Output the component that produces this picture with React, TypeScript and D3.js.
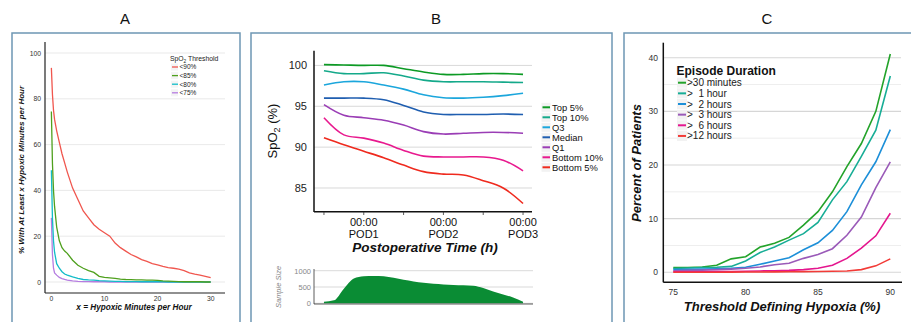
import React, { useEffect, useRef } from "react";
import * as d3 from "d3";

// ---- Panel A: % with at least x hypoxic minutes per hour
const minutesA = [0, 0.2, 0.4, 0.6, 1, 1.5, 2, 2.5, 3, 4, 5, 6, 7, 8, 9, 10, 11, 12, 13, 14, 15, 16, 17, 18, 19, 20, 21, 22, 23, 24, 25, 26, 27, 28, 29, 30];
const below90 = [93.5, 82, 75, 71, 66, 61, 56, 52, 48, 41, 36, 31, 28, 25, 23, 21.5, 20, 17, 15, 13.5, 12, 11, 9.8, 9, 8, 7.5, 6.8, 6.3, 6, 5.6, 5, 4, 3.4, 3, 2.5, 1.9];
const below85 = [74.5, 52, 40, 33, 24, 18, 15, 13.5, 12.5, 9.5, 7.3, 6, 5, 4.2, 2.5, 2, 1.8, 1.6, 1.3, 1.1, 1, 0.9, 0.9, 0.8, 0.8, 0.7, 0.5, 0.4, 0.3, 0.2, 0.1, 0.1, 0.1, 0.1, 0, 0];
const below80 = [48.8, 28, 18, 13, 8, 6, 4.5, 3.5, 3, 2.2, 1.6, 1.1, 0.9, 0.8, 0.6, 0.5, 0.4, 0.3, 0.3, 0.2, 0.2, 0.2, 0.1, 0.1, 0.1, 0.1, 0.1, 0, 0, 0, 0, 0, 0, 0, 0, 0];
const below75 = [28, 12, 6, 4, 3, 2, 1.5, 1.1, 0.8, 0.5, 0.3, 0.2, 0.2, 0.1, 0.1, 0.1, 0, 0, 0, 0, 0, 0, 0, 0, 0, 0, 0, 0, 0, 0, 0, 0, 0, 0, 0, 0];
const thresholdsA = ["<90%", "<85%", "<80%", "<75%"];
const colorsA = ["#f0564e", "#4fa01e", "#12bcc8", "#b57ce0"];

// ---- Panel B: SpO2 percentiles over postoperative time (hours from first point)
const hoursB = [0, 6, 12, 18, 24, 30, 36, 42, 48, 54, 60];
const top5 = [100.1, 100.05, 100.0, 100.0, 99.6, 99.2, 98.9, 98.9, 99.0, 99.0, 98.9];
const top10 = [99.35, 99.0, 99.0, 99.1, 98.7, 98.2, 98.0, 98.0, 98.0, 97.95, 97.9];
const q3 = [97.6, 98.0, 98.0, 97.6, 97.1, 96.4, 96.05, 96.0, 96.1, 96.3, 96.6];
const median = [96.0, 96.0, 96.0, 95.8, 95.1, 94.3, 94.0, 94.0, 94.0, 94.05, 94.0];
const q1 = [95.2, 93.9, 93.6, 93.3, 92.7, 91.9, 91.6, 91.7, 91.8, 91.8, 91.7];
const bottom10 = [93.6, 91.5, 91.1, 90.5, 89.6, 88.9, 88.8, 88.8, 88.8, 88.4, 87.1];
const bottom5 = [91.15, 90.3, 89.5, 88.7, 87.8, 87.0, 86.7, 86.6, 85.9, 85.0, 83.1];
const seriesNamesB = ["Top 5%", "Top 10%", "Q3", "Median", "Q1", "Bottom 10%", "Bottom 5%"];
const colorsB = ["#0c9a24", "#14a98a", "#1ba6dc", "#1f5eb0", "#9a3db5", "#e8198e", "#ef2a1e"];
const podTicks = [12, 36, 60];
const podLabels = ["POD1", "POD2", "POD3"];

const sampleHours = [0, 3, 6, 9, 12, 15, 18, 21, 24, 27, 30, 33, 36, 39, 42, 45, 48, 51, 54, 57, 60];
const sampleSize = [50, 90, 450, 760, 830, 840, 830, 780, 720, 670, 630, 600, 580, 565, 555, 540, 470, 360, 270, 180, 50];

// ---- Panel C: percent of patients by hypoxia threshold
const thresholdC = [75, 76, 77, 78, 79, 80, 81, 82, 83, 84, 85, 86, 87, 88, 89, 90];
const over30min = [0.87, 0.9, 1.0, 1.3, 2.5, 2.9, 4.7, 5.4, 6.5, 8.8, 11.3, 15.0, 19.7, 24.0, 30.0, 40.7];
const over1h = [0.7, 0.8, 0.9, 0.95, 1.1, 2.1, 3.7, 4.7, 6.0, 7.2, 9.3, 13.5, 16.9, 21.6, 26.5, 36.6];
const over2h = [0.5, 0.55, 0.6, 0.65, 0.75, 0.95, 1.5, 2.1, 2.7, 4.2, 5.5, 7.8, 11.3, 16.3, 20.6, 26.6];
const over3h = [0.3, 0.35, 0.4, 0.5, 0.6, 0.75, 1.0, 1.4, 1.7, 2.6, 3.3, 4.4, 6.9, 10.3, 15.8, 20.6];
const over6h = [0.1, 0.1, 0.1, 0.15, 0.15, 0.2, 0.25, 0.3, 0.35, 0.5, 0.75, 1.3, 2.6, 4.5, 6.8, 11.0];
const over12h = [0, 0, 0, 0.02, 0.03, 0.05, 0.06, 0.08, 0.1, 0.12, 0.15, 0.2, 0.25, 0.5, 1.2, 2.5];
const durationsC = [">30 minutes", ">  1 hour", ">  2 hours", ">  3 hours", ">  6 hours", ">12 hours"];
const colorsC = ["#23a32a", "#17ad96", "#1c8fd8", "#9a5ab8", "#e4168e", "#f23b37"];

const FONT = "'Liberation Sans', Arial, Helvetica, sans-serif";
const BORDER = "#6e97b4";

const App: React.FC = () => {
    const ref = useRef<SVGSVGElement | null>(null);

    useEffect(() => {
        const svg = d3.select(ref.current);
        svg.selectAll("*").remove();
        svg.attr("font-family", FONT);

        // panel letters + frames
        [["A", 125, 12, 228], ["B", 436, 251, 361], ["C", 767, 624, 300]].forEach(([t, cx, bx, bw]) => {
            svg.append("text").attr("x", cx as number).attr("y", 24).attr("text-anchor", "middle")
                .attr("font-size", 15).attr("fill", "#111").text(t as string);
            svg.append("rect").attr("x", bx as number).attr("y", 33).attr("width", bw as number).attr("height", 300)
                .attr("fill", "white").attr("stroke", BORDER).attr("stroke-width", 1.5);
        });

        // ================= Panel A =================
        const xA = d3.scaleLinear().domain([-1.2, 32.7]).range([45, 225]);
        const yA = d3.scaleLinear().domain([0, 100]).range([282, 53]);
        const gA = svg.append("g");
        gA.selectAll("line.grid").data(d3.range(0, 101, 20)).join("line")
            .attr("x1", 45).attr("x2", 225).attr("y1", (d) => yA(d)).attr("y2", (d) => yA(d))
            .attr("stroke", "#e3e3e3").attr("stroke-width", 0.8);
        const seriesA = [below90, below85, below80, below75];
        const lineA = d3.line<number>().x((_, i) => xA(minutesA[i])).y((d) => yA(d));
        seriesA.slice().reverse().forEach((s, k) => {
            gA.append("path").attr("d", lineA(s)).attr("fill", "none")
                .attr("stroke", colorsA[3 - k]).attr("stroke-width", 1.3);
        });
        gA.append("line").attr("x1", 45).attr("x2", 45).attr("y1", 42).attr("y2", 293).attr("stroke", "#222").attr("stroke-width", 1.2);
        gA.append("line").attr("x1", 45).attr("x2", 225).attr("y1", 293).attr("y2", 293).attr("stroke", "#222").attr("stroke-width", 1.2);
        gA.selectAll("text.yt").data(d3.range(0, 101, 20)).join("text")
            .attr("x", 41).attr("y", (d) => yA(d) + 2.5).attr("text-anchor", "end")
            .attr("font-size", 6.8).attr("fill", "#333").text((d) => d);
        gA.selectAll("text.xt").data([0, 10, 20, 30]).join("text")
            .attr("x", (d) => xA(d)).attr("y", 301).attr("text-anchor", "middle")
            .attr("font-size", 6.8).attr("fill", "#333").text((d) => d);
        gA.append("text").attr("transform", "translate(24,170) rotate(-90)").attr("text-anchor", "middle")
            .attr("font-size", 8).attr("font-weight", "bold").attr("font-style", "italic").attr("fill", "#111")
            .text("% With At Least x Hypoxic Minutes per Hour");
        gA.append("text").attr("x", 134).attr("y", 310).attr("text-anchor", "middle")
            .attr("font-size", 8.2).attr("font-weight", "bold").attr("font-style", "italic").attr("fill", "#111")
            .text("x = Hypoxic Minutes per Hour");
        const legA = gA.append("g");
        const tA = legA.append("text").attr("x", 170).attr("y", 61).attr("font-size", 6.8).attr("fill", "#222");
        tA.append("tspan").text("SpO");
        tA.append("tspan").attr("font-size", 4.8).attr("dy", 1.5).text("2");
        tA.append("tspan").attr("dy", -1.5).text(" Threshold");
        thresholdsA.forEach((t, i) => {
            const y = 67 + i * 8.6;
            legA.append("rect").attr("x", 171).attr("y", y - 3.5).attr("width", 7).attr("height", 7).attr("fill", "#f4f4f4");
            legA.append("line").attr("x1", 172).attr("x2", 178).attr("y1", y).attr("y2", y)
                .attr("stroke", colorsA[i]).attr("stroke-width", 1.3);
            legA.append("text").attr("x", 179.5).attr("y", y + 2.4).attr("font-size", 6.5).attr("fill", "#222").text(t);
        });

        // ================= Panel B =================
        const xB = d3.scaleLinear().domain([-3, 62.7]).range([314, 532]);
        const yB = d3.scaleLinear().domain([82.1, 101.8]).range([211.7, 50.7]);
        const gB = svg.append("g");
        gB.selectAll("line.grid").data([85, 90, 95, 100]).join("line")
            .attr("x1", 314).attr("x2", 532).attr("y1", (d) => yB(d)).attr("y2", (d) => yB(d))
            .attr("stroke", "#d9d9d9").attr("stroke-width", 1);
        const seriesB = [top5, top10, q3, median, q1, bottom10, bottom5];
        const lineB = d3.line<number>().x((_, i) => xB(hoursB[i])).y((d) => yB(d)).curve(d3.curveCatmullRom.alpha(0.5));
        seriesB.forEach((s, i) => {
            gB.append("path").attr("d", lineB(s)).attr("fill", "none").attr("stroke", colorsB[i]).attr("stroke-width", 1.6);
        });
        gB.append("line").attr("x1", 314).attr("x2", 314).attr("y1", 50.7).attr("y2", 212).attr("stroke", "#111").attr("stroke-width", 1.5);
        gB.append("line").attr("x1", 314).attr("x2", 532).attr("y1", 211.7).attr("y2", 211.7).attr("stroke", "#111").attr("stroke-width", 1.5);
        gB.selectAll("line.xt").data(d3.range(0, 61, 12)).join("line")
            .attr("x1", (d) => xB(d)).attr("x2", (d) => xB(d)).attr("y1", 211.7).attr("y2", 215)
            .attr("stroke", "#333").attr("stroke-width", 0.8);
        gB.selectAll("text.yt").data([85, 90, 95, 100]).join("text")
            .attr("x", 307).attr("y", (d) => yB(d) + 4).attr("text-anchor", "end")
            .attr("font-size", 11).attr("fill", "#222").text((d) => d);
        podTicks.forEach((h, i) => {
            gB.append("text").attr("x", xB(h)).attr("y", 226).attr("text-anchor", "middle")
                .attr("font-size", 11).attr("fill", "#111").text("00:00");
            gB.append("text").attr("x", xB(h)).attr("y", 238).attr("text-anchor", "middle")
                .attr("font-size", 11).attr("fill", "#111").text(podLabels[i]);
        });
        gB.append("text").attr("x", 425).attr("y", 252).attr("text-anchor", "middle")
            .attr("font-size", 13.5).attr("font-weight", "bold").attr("font-style", "italic").attr("fill", "#111")
            .text("Postoperative Time (h)");
        const tB = gB.append("text").attr("transform", "translate(277,131) rotate(-90)").attr("text-anchor", "middle")
            .attr("font-size", 13).attr("fill", "#111");
        tB.append("tspan").text("SpO");
        tB.append("tspan").attr("font-size", 9).attr("dy", 3).text("2");
        tB.append("tspan").attr("dy", -3).text(" (%)");
        seriesNamesB.forEach((n, i) => {
            const y = 107.3 + i * 10;
            gB.append("rect").attr("x", 541.5).attr("y", y - 4.5).attr("width", 9).attr("height", 9).attr("fill", "#f2f2f2");
            gB.append("line").attr("x1", 542.5).attr("x2", 550).attr("y1", y).attr("y2", y)
                .attr("stroke", colorsB[i]).attr("stroke-width", 2);
            gB.append("text").attr("x", 552).attr("y", y + 3.3).attr("font-size", 9.4).attr("fill", "#111").text(n);
        });

        // sample size sub-panel
        const yS = d3.scaleLinear().domain([0, 1000]).range([303.3, 270.7]);
        gB.selectAll("line.sgrid").data([0, 500, 1000]).join("line")
            .attr("x1", 314).attr("x2", 533).attr("y1", (d) => yS(d)).attr("y2", (d) => yS(d))
            .attr("stroke", "#cfcfcf").attr("stroke-width", 0.8);
        const areaS = d3.area<number>().x((_, i) => xB(sampleHours[i])).y0(yS(0)).y1((d) => yS(d)).curve(d3.curveMonotoneX);
        gB.append("path").attr("d", areaS(sampleSize)).attr("fill", "#0a8c34");
        gB.append("line").attr("x1", 314).attr("x2", 314).attr("y1", 269).attr("y2", 304).attr("stroke", "#333").attr("stroke-width", 0.8);
        gB.append("line").attr("x1", 314).attr("x2", 533).attr("y1", 304).attr("y2", 304).attr("stroke", "#333").attr("stroke-width", 0.8);
        gB.selectAll("text.st").data([0, 500, 1000]).join("text")
            .attr("x", 311).attr("y", (d) => yS(d) + 2.8).attr("text-anchor", "end")
            .attr("font-size", 7.5).attr("fill", "#888").text((d) => d);
        gB.append("text").attr("transform", "translate(281,287) rotate(-90)").attr("text-anchor", "middle")
            .attr("font-size", 7.5).attr("font-style", "italic").attr("fill", "#888").text("Sample Size");

        // ================= Panel C =================
        const xC = d3.scaleLinear().domain([75, 90]).range([673.3, 890.3]);
        const yC = d3.scaleLinear().domain([0, 40]).range([272.3, 57.7]);
        const gC = svg.append("g");
        gC.selectAll("line.grid").data(d3.range(0, 41, 5)).join("line")
            .attr("x1", 663).attr("x2", 901).attr("y1", (d) => yC(d)).attr("y2", (d) => yC(d))
            .attr("stroke", (d) => (d % 10 === 0 ? "#d6d6d6" : "#e6e6e6"))
            .attr("stroke-width", (d) => (d % 10 === 0 ? 1.1 : 0.7));
        const seriesC = [over30min, over1h, over2h, over3h, over6h, over12h];
        const lineC = d3.line<number>().x((_, i) => xC(thresholdC[i])).y((d) => yC(d));
        seriesC.forEach((s, i) => {
            gC.append("path").attr("d", lineC(s)).attr("fill", "none").attr("stroke", colorsC[i]).attr("stroke-width", 1.6);
        });
        gC.append("line").attr("x1", 663.3).attr("x2", 663.3).attr("y1", 42.7).attr("y2", 282.3).attr("stroke", "#111").attr("stroke-width", 1.5);
        gC.append("line").attr("x1", 663.3).attr("x2", 902).attr("y1", 282.3).attr("y2", 282.3).attr("stroke", "#111").attr("stroke-width", 1.5);
        gC.selectAll("text.yt").data(d3.range(0, 41, 10)).join("text")
            .attr("x", 658).attr("y", (d) => yC(d) + 3).attr("text-anchor", "end")
            .attr("font-size", 8.5).attr("fill", "#333").text((d) => d);
        gC.selectAll("text.xt").data([75, 80, 85, 90]).join("text")
            .attr("x", (d) => xC(d)).attr("y", 294.5).attr("text-anchor", "middle")
            .attr("font-size", 8.5).attr("fill", "#333").text((d) => d);
        gC.append("text").attr("transform", "translate(641,163) rotate(-90)").attr("text-anchor", "middle")
            .attr("font-size", 13).attr("font-weight", "bold").attr("font-style", "italic").attr("fill", "#111")
            .text("Percent of Patients");
        gC.append("text").attr("x", 782).attr("y", 311).attr("text-anchor", "middle")
            .attr("font-size", 13).attr("font-weight", "bold").attr("font-style", "italic").attr("fill", "#111")
            .text("Threshold Defining Hypoxia (%)");
        gC.append("text").attr("x", 676.5).attr("y", 75).attr("font-size", 12).attr("font-weight", "bold")
            .attr("fill", "#111").text("Episode Duration");
        durationsC.forEach((d, i) => {
            const y = 82.7 + i * 10.65;
            gC.append("rect").attr("x", 677).attr("y", y - 5).attr("width", 10).attr("height", 10).attr("fill", "#f2f2f2");
            gC.append("line").attr("x1", 678).attr("x2", 686).attr("y1", y).attr("y2", y)
                .attr("stroke", colorsC[i]).attr("stroke-width", 2);
            gC.append("text").attr("x", 687).attr("y", y + 3.5).attr("font-size", 10).attr("fill", "#222")
                .style("white-space", "pre").attr("xml:space", "preserve").text(d);
        });
    }, []);

    return (
        <div style={{ position: "absolute", left: 0, top: 0 }}>
            <svg ref={ref} width={911} height={322} style={{ display: "block", background: "white" }} />
        </div>
    );
};

export default App;
